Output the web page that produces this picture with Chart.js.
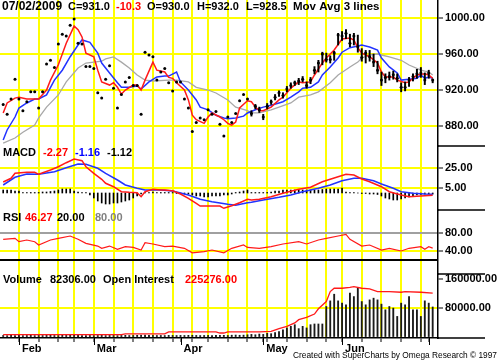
<!DOCTYPE html>
<html>
<head>
<meta charset="utf-8">
<script src="https://cdn.jsdelivr.net/npm/chart.js@4/dist/chart.umd.min.js"></script>
<style>html,body{margin:0;padding:0;background:#fff}canvas{display:block}</style>
</head>
<body>
<canvas id="chart" width="500" height="362"></canvas>
<script>
// daily closes, day 0 = 27 Jan 2009 ... day 109 = 2 Jul 2009
const closes = [904,893,910,932,910,897,907,918,918,900,
  918,949,953,945,971,982,980,992,999,972,
  971,946,946,944,917,911,932,947,922,900,
  915,929,934,925,925,893,962,959,957,931,
  940,944,928,919,929,929,910,900,874,884,
  889,887,898,893,896,882,869,890,884,894,
  908,915,910,894,902,898,890,902,907,912,
  917,914,921,925,928,930,932,925,931,942,
  950,960,954,954,961,981,980,983,972,980,
  968,956,961,957,951,942,931,934,935,937,
  933,923,923,931,935,938,939,931,939,931];

// high/low bars from day 63 on
const barStart = 63;
const barLows = [891,899,895,887,899,904,909,913,911,918,922,925,926,929,922,927,938,940,948,951,950,953,970,975,977,968,970,962,952,950,952,946,938,925,928,931,932,929,918,919,924,930,933,934,926,933,928];
const barHighs = [897,904,901,893,905,909,915,919,917,924,928,930,933,935,929,934,946,953,962,961,958,963,983,985,987,982,983,981,966,964,964,960,952,940,938,940,941,938,928,929,934,938,943,945,939,942,932];

// moving averages [day, value]
const maFast = [[0,894.5],[1,905.6],[3,911],[4,912],[6,910],[8,910],[9,910],[11,920],[12,931],[14,948],[16,972],[18,991],[19,987],[20,979],[21,961],[23,957],[24,942],[25,929],[27,925.5],[28,928],[29,923],[30,915.5],[31,920],[33,925.5],[34,925.5],[35,920],[36,931],[38,951],[39,942],[41,940],[42,934],[43,933],[44,928],[46,920],[47,909],[48,892],[49,887],[51,883],[52,890],[53,894.5],[55,890],[56,887],[57,883],[58,881],[59,884.5],[60,900],[62,908],[63,907],[64,901],[65,897],[66,897],[68,901],[70,909],[71,912],[73,922],[75,929],[76,928],[78,929],[79,936.7],[81,950],[82,955.6],[84,964.4],[86,976.7],[88,977.8],[89,975.6],[90,967],[91,961],[93,957],[95,950],[96,940],[97,934.5],[99,934.5],[100,931],[102,928],[103,929],[104,933],[105,936.7],[107,938],[108,936.7],[109,933]];
const maMid = [[0,864.4],[1,875.6],[3,890],[4,900],[6,905.6],[8,910],[9,910],[11,914.5],[13,931],[15,942],[17,957],[19,970],[20,975.6],[22,973],[24,961],[25,950],[27,939],[29,928],[30,923],[32,923],[34,924.5],[35,921],[37,929],[39,934.5],[41,935.5],[42,935.5],[44,940],[45,929],[47,920],[49,909],[50,901],[52,898],[54,892],[56,889],[57,888],[59,889],[61,891],[62,894.5],[64,898],[66,901],[68,903],[70,905.6],[71,907],[73,912],[75,918],[76,922],[78,923],[80,929],[81,936.7],[83,945.6],[85,955.6],[86,962],[88,967],[90,969],[91,970],[93,967.8],[95,964.4],[96,955.6],[98,945.6],[100,939],[101,931],[103,932],[105,933],[106,936.7],[107,933],[108,934.5],[109,933]];
const maSlow = [[0,861],[3,866.7],[5,873],[8,881],[9,889],[11,901],[14,914.5],[16,929],[19,944.4],[21,950],[23,951],[25,952],[26,954.5],[28,956.7],[30,951],[32,944.4],[34,936.7],[36,931],[38,930],[42,931],[44,931],[47,929],[49,923],[52,920],[54,916.7],[57,909],[59,901],[62,897],[63,894.5],[65,894.5],[68,898],[70,901],[73,905.6],[75,912],[78,914.5],[80,918],[83,928],[85,936.7],[88,945.6],[90,951],[91,955.6],[93,958.9],[95,960],[96,958.9],[98,956.7],[101,953],[103,947.8],[106,942],[108,940],[109,936.7]];

// MACD [day, value]
const macdLine = [[0,11],[2,14.7],[3,19.7],[6,20.7],[8,20.7],[9,18.7],[12,23],[14,26.3],[16,30.3],[18,34],[20,32.3],[21,26.3],[23,19.7],[25,13.7],[26,9.7],[28,6.3],[30,1.3],[32,0.7],[34,0.3],[35,-3.7],[36,1.3],[38,3.7],[40,3],[41,3],[43,2.3],[45,-1],[47,-5.3],[49,-10.3],[50,-13],[52,-13],[55,-13],[56,-15.3],[58,-12.7],[60,-9.7],[62,-6.3],[63,-7],[65,-6.3],[68,-3.7],[71,-0.3],[75,3.7],[78,5.7],[81,11.3],[85,16.3],[87,18.7],[89,18],[91,14],[93,11.3],[96,6.3],[98,1.3],[101,-2],[103,-3.7],[106,-3],[109,-2.27]];
const macdSignal = [[0,8],[3,15.7],[6,19],[9,18.7],[13,21.3],[16,25.3],[19,29],[21,28.7],[24,24.7],[26,19.7],[29,13],[31,8],[34,4.7],[36,3],[40,3],[43,2],[47,-2],[50,-6.3],[53,-8.7],[57,-11.3],[59,-12.3],[62,-9.7],[63,-9.3],[66,-7],[70,-4.3],[73,-2],[76,1.3],[80,4.7],[83,8],[86,12.3],[89,14.7],[91,14.7],[94,12.3],[96,9],[99,4.7],[101,1.3],[104,-0.3],[107,-1],[109,-1.16]];
const macdHist = [3,3,3,2,2,
  0.5,0.5,0.5,0.5,0.5,1,
  1,1.5,2,3,4,4,4,
  2,1,0.5,0.5,
  -2,-5,-8,-10,-11,-11,-10,-10,-9,-8,-7,-5,-3,-1,
  0.5,0.5,1,0.5,0.5,0.5,0.5,0.5,-0.5,-0.5,-1,-1,
  -2,-3,-3,-4,-4,-3,-3,-3,-2,-2,-1,
  0.5,1,2,3,
  0.5,0.5,0.5,0.5,0.5,
  1,2,2,3,3,3,3,3,3,3,3,3,3,3.5,4,4,4,4,5,1,
  0.5,0.5,0,-0.5,-0.5,-1,-1,-1.5,
  -3,-5,-6,-7,-7,-6,-5,-4,
  -3,-2,-1.5,-1,-1,-1.12];

// RSI [day, value]
const rsi = [[0,66],[3,68],[4,60.7],[6,64.4],[8,60.7],[9,53.3],[12,64.4],[14,68],[17,73.3],[19,66],[21,57],[24,51],[25,46],[27,51],[29,43.8],[31,49.6],[33,48],[35,42.2],[36,58.5],[38,55.6],[41,49.6],[43,51],[46,46],[48,36],[51,38.5],[53,42.2],[56,36],[58,46],[61,53.3],[62,48],[65,46],[68,49.6],[71,55.6],[75,60.7],[77,55.6],[80,64.4],[82,68],[85,73.3],[87,77],[88,66],[91,51],[93,53.3],[96,42.2],[98,46],[101,40],[103,46],[106,49.6],[107,43.8],[108,49.6],[109,46.27]];

// volume per day and open interest [day, value]
const volume = [3000,2500,3500,2800,3200,2600,3000,3400,2700,3100,
  2900,3300,3600,3000,2800,3500,3200,4000,3800,3300,
  3000,2900,3100,2700,3000,3300,2800,3200,3000,2600,
  3100,3400,2900,3000,3500,3800,4200,3600,3100,2900,
  3000,2800,3300,3100,2900,3200,3000,3400,3600,3100,
  2800,3000,3200,2900,3100,3300,3500,3000,3800,4200,
  3600,4000,5000,6000,5000,7000,6000,9000,8000,11000,14000,
  19000,24000,28400,33000,22000,28400,24000,33000,35000,35000,35000,
  83600,99300,117800,99300,93000,88300,120600,111200,134400,97400,88300,102000,106800,102000,90200,74500,83600,79200,56000,93000,88300,111200,74500,74500,56000,99300,93000,82306];
const openInt = [[0,5500],[30,5500],[31,7500],[41,7500],[42,13000],[54,13000],[55,9900],[56,9900],[57,13000],[65,13000],[68,14700],[70,22000],[72,28400],[74,37800],[75,47000],[77,53300],[79,62600],[80,77300],[82,97400],[83,125000],[84,134400],[86,134400],[88,137000],[89,138800],[91,134400],[93,132400],[95,125000],[98,125000],[101,123300],[102,125000],[106,123300],[109,120600]];

// axis ticks
const weekTicks = [4,9,14,18,23,28,33,38,43,48,52,57,62,67,72,77,82,86,91,96,101,106];
const monthTicks = [4,23,45,66,86,108];
const monthNames = ['Feb','Mar','Apr','May','Jun',''];
const priceTicks = [880,920,960,1000];
const macdTicks = [5,25];
const rsiTicks = [20,40,80];
const volTicks = [80000,160000];

const YEL = '#ffff00';
const NONE = 'rgba(0,0,0,0)';
const pts = arr => arr.map(p => ({x: p[0], y: p[1]}));
const tv = c => (c && c.tick ? c.tick.value : null);
const noPad = s => { s.paddingTop = 0; s.paddingBottom = 0; s.paddingLeft = 0; s.paddingRight = 0; };

Chart.defaults.font.family = 'Arial';

function rightAxis(min, max, weight, order, tickVals, gridColor, label) {
  return {
    type: 'linear', position: 'right', stack: 'panels', stackWeight: weight, weight: order,
    min: min, max: max,
    afterBuildTicks: s => { s.ticks = tickVals.map(v => ({value: v})); },
    afterFit: s => { s.width = 62; noPad(s); },
    grid: {
      offset: false,
      color: c => (tv(c) === null ? YEL : gridColor(tv(c))),
      lineWidth: 2, tickLength: 5, tickWidth: 1,
      tickColor: c => (tv(c) !== null && label(tv(c)) === '' ? NONE : '#000')
    },
    border: { color: '#000', width: 1.5 },
    ticks: { color: '#000', font: { size: 11, weight: 'bold' }, padding: 2, callback: v => label(v) }
  };
}

const overlay = {
  id: 'overlay',
  afterDraw(chart) {
    const c = chart.ctx, s = chart.scales;
    c.save();
    c.strokeStyle = '#000';
    c.lineWidth = 1.5;
    const line = (x1, y1, x2, y2) => { c.beginPath(); c.moveTo(x1, y1); c.lineTo(x2, y2); c.stroke(); };
    const right = chart.chartArea.right;
    [s.yPrice.bottom, s.yMacd.bottom, s.yRsi.bottom, s.yVol.bottom].forEach(y => line(right, y, right + 47, y));
    c.lineWidth = 1;
    monthTicks.forEach(v => { const x = Math.round(s.x.getPixelForValue(v)) + 0.5; line(x, chart.chartArea.bottom, x, chart.chartArea.bottom + 7); });

    c.textBaseline = 'middle';
    const txt = (t, x, y, col, size, bold) => { c.font = (bold ? 'bold ' : '') + size + 'px Arial'; c.fillStyle = col; c.fillText(t, x, y); };
    txt('07/02/2009', 2, 7, '#000', 12, true);
    txt('C=931.0', 68, 7, '#000', 11, true);
    txt('-10.3', 116, 7, '#ff0000', 11, true);
    txt('O=930.0', 147, 7, '#000', 11, true);
    txt('H=932.0', 197, 7, '#000', 11, true);
    txt('L=928.5', 246, 7, '#000', 11, true);
    txt('Mov Avg 3 lines', 293, 7, '#000', 11.5, true);

    txt('MACD', 3, 153, '#000', 11, true);
    txt('-2.27', 43, 153, '#ff0000', 11, true);
    txt('-1.16', 75, 153, '#0000ff', 11, true);
    txt('-1.12', 107, 153, '#000', 11, true);

    txt('RSI', 3, 218, '#000', 11, true);
    txt('46.27', 25, 218, '#ff0000', 11, true);
    txt('20.00', 57, 218, '#000', 11, true);
    txt('80.00', 95, 218, '#808080', 11, true);

    txt('Volume', 3, 280, '#000', 11, true);
    txt('82306.00', 50, 280, '#000', 11, true);
    txt('Open Interest', 103, 280, '#000', 11, true);
    txt('225276.00', 185, 280, '#ff0000', 11, true);

    c.font = '9.5px Arial';
    c.fillStyle = '#000';
    c.fillText('Created with SuperCharts by Omega Research \u00a9 1997', 293, 355, 204);
    c.restore();
  }
};

const ctx = document.getElementById('chart').getContext('2d');
new Chart(ctx, {
  type: 'scatter',
  data: {
    datasets: [
      { type: 'scatter', data: closes.map((v, i) => ({x: i, y: v})), yAxisID: 'yPrice', pointRadius: 1.5, pointBorderWidth: 0, pointBackgroundColor: '#000', order: 0 },
      { type: 'bar', data: barLows.map((lo, i) => ({x: barStart + i, y: [lo, barHighs[i]]})), yAxisID: 'yPrice', backgroundColor: '#000', barThickness: 1.3, grouped: false, order: 1 },
      { type: 'line', data: pts(maFast), yAxisID: 'yPrice', borderColor: '#ff1a1a', borderWidth: 1.5, pointRadius: 0, order: 2 },
      { type: 'line', data: pts(maMid), yAxisID: 'yPrice', borderColor: '#2233ff', borderWidth: 1.5, pointRadius: 0, order: 3 },
      { type: 'line', data: pts(maSlow), yAxisID: 'yPrice', borderColor: '#a8a8a8', borderWidth: 1.3, pointRadius: 0, order: 4 },

      { type: 'bar', data: macdHist.map((v, i) => ({x: i, y: v})), yAxisID: 'yMacd', backgroundColor: '#000', barThickness: 1, grouped: false, order: 7 },
      { type: 'line', data: pts(macdLine), yAxisID: 'yMacd', borderColor: '#ff1a1a', borderWidth: 1.5, pointRadius: 0, order: 5 },
      { type: 'line', data: pts(macdSignal), yAxisID: 'yMacd', borderColor: '#2233ff', borderWidth: 1.5, pointRadius: 0, order: 6 },

      { type: 'line', data: pts(rsi), yAxisID: 'yRsi', borderColor: '#ff1a1a', borderWidth: 1.2, pointRadius: 0, order: 8 },

      { type: 'bar', data: volume.map((v, i) => ({x: i, y: v})), yAxisID: 'yVol', backgroundColor: '#1a1a1a', barThickness: 1.2, grouped: false, order: 10 },
      { type: 'line', data: pts(openInt), yAxisID: 'yVol', borderColor: '#ff1a1a', borderWidth: 1.3, pointRadius: 0, order: 9 }
    ]
  },
  options: {
    responsive: false,
    animation: false,
    events: [],
    layout: { autoPadding: false, padding: 0 },
    plugins: { legend: { display: false }, tooltip: { enabled: false } },
    scales: {
      x: {
        type: 'linear', position: 'bottom', min: -0.81, max: 110.35, offset: false,
        afterBuildTicks: s => { s.ticks = [...new Set(weekTicks.concat(monthTicks))].sort((a, b) => a - b).map(v => ({value: v})); },
        afterFit: s => { s.height = 24; noPad(s); },
        grid: { offset: false, color: c => (weekTicks.includes(tv(c)) ? YEL : NONE), lineWidth: 2, tickLength: 4, tickColor: '#000', tickWidth: 1 },
        border: { color: '#000', width: 1.5 },
        ticks: {
          autoSkip: false, maxRotation: 0, align: 'start', padding: 0, color: '#000',
          font: { size: 11, weight: 'bold' },
          callback: v => { const k = monthTicks.indexOf(v); return k >= 0 ? ' ' + monthNames[k] : ''; }
        }
      },
      yPrice: rightAxis(857.8, 1020, 146, 1, priceTicks, v => YEL, v => v.toFixed(2)),
      yMacd: rightAxis(-17, 47, 64, 2, macdTicks, v => YEL, v => v.toFixed(2)),
      yRsi: rightAxis(-11.1, 131.1, 64, 3, rsiTicks,
        v => (v === 20 ? '#000' : v === 80 ? '#a0a0a0' : YEL),
        v => (v === 20 ? '' : v.toFixed(2))),
      yVol: rightAxis(-4000, 174000, 64, 4, volTicks,
        v => (v === 80000 ? YEL : NONE), v => v.toFixed(2))
    }
  },
  plugins: [overlay]
});
</script>
</body>
</html>
